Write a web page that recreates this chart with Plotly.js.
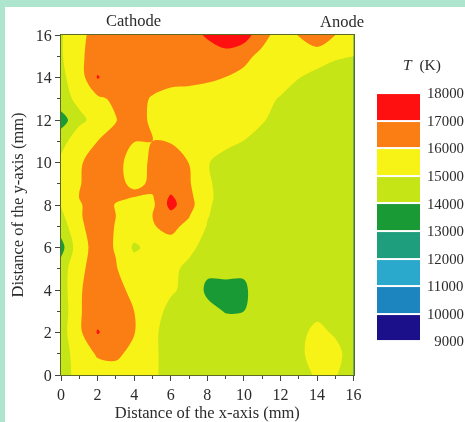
<!DOCTYPE html>
<html>
<head>
<meta charset="utf-8">
<script src="https://cdn.plot.ly/plotly-3.0.1.min.js"></script>
<style>
html,body{margin:0;padding:0;width:465px;height:422px;overflow:hidden;background:#ADE5CF;}
#c{position:absolute;left:5px;top:7px;width:460px;height:415px;background:#fff;filter:blur(0.35px);}
</style>
</head>
<body>
<div id="c"></div>
<script>
const xMm = [0,1,2,3,4,5,6,7,8,9,10,11,12,13,14,15,16];
const yMm = [0,1,2,3,4,5,6,7,7.5,8,8.3,8.6,9,10,11,12,13,14,15,16];
const r0  = [14500,15400,15600,15600,15400,15100,14800,14600,14600,14500,14500,14500,14500,14700,15100,15050,14600];
const r1  = [14500,15500,16100,16200,15700,15100,14800,14600,14500,14500,14500,14500,14500,14800,15400,15250,14600];
const r2  = [14600,15800,17070,16500,16050,15100,14800,14600,14500,14500,14500,14500,14500,14800,15200,14900,14600];
const r3  = [14400,15900,16600,16600,16000,15300,14800,14600,14300,13950,14000,14500,14500,14500,14800,14600,14500];
const r4  = [14500,15900,16500,16350,15700,15300,15100,14800,13800,13600,13800,14700,14500,14500,14500,14500,14500];
const r5  = [14500,15800,16400,16050,15500,15300,15200,14800,14200,14400,14200,14500,14500,14500,14500,14500,14500];
const r6  = [13600,15700,16300,15950,14850,15300,15700,15200,14700,14500,14500,14500,14500,14500,14500,14500,14500];
const r7  = [14500,15800,16500,15950,15500,15950,16200,15800,14950,14600,14500,14500,14500,14500,14500,14500,14500];
const r75 = [14800,15900,16500,16000,15700,16000,16700,16050,15050,14600,14500,14500,14500,14500,14500,14500,14500];
const r8  = [15050,15900,16500,15950,15800,15800,17300,16400,15100,14700,14500,14500,14500,14500,14500,14500,14500];
const r83 = [15150,16000,16500,16100,15950,15900,17200,16300,15150,14700,14500,14500,14500,14500,14500,14500,14500];
const r86 = [15200,16000,16500,16300,16150,16050,16900,16200,15150,14700,14500,14500,14500,14500,14500,14500,14500];
const r9  = [15200,15950,16400,16400,15700,16200,16600,16100,15150,14600,14500,14500,14500,14500,14500,14500,14500];
const r10 = [15200,15900,16400,16300,15600,16150,16400,15990,15050,14700,14500,14500,14500,14500,14500,14500,14500];
const r11 = [14700,15500,16000,16500,16020,16000,15950,15500,15300,15200,14990,14800,14500,14500,14500,14500,14500];
const r12 = [13500,14800,15300,15950,16500,15800,15600,15500,15400,15300,15200,15050,14800,14500,14500,14500,14500];
const r13 = [14700,15200,15800,16200,16400,15900,15450,15400,15400,15400,15350,15200,14950,14700,14500,14500,14500];
const r14 = [14800,15500,17070,16500,16500,16500,16500,16400,16200,15980,15700,15500,15300,15020,14700,14600,14500];
const r15 = [14900,15800,16500,16600,16600,16600,16600,16600,16600,16800,16300,15700,15500,15300,15450,15100,15000];
const r16 = [14900,15800,16300,16500,16500,16500,16600,16700,17100,17350,17450,16400,15500,16050,16700,16000,15200];
const temperature = [r0,r1,r2,r3,r4,r5,r6,r7,r75,r8,r83,r86,r9,r10,r11,r12,r13,r14,r15,r16];

const bandCentres = [9500,10500,11500,12500,13500,14500,15500,16500,17500];
const bandColours = ['#1B1089','#1C84BE','#2BA9CC','#1F9E7E','#1A9A35','#C5E516','#F8F316','#FA7E14','#FF1010'];
const tickVals = [9000,10000,11000,12000,13000,14000,15000,16000,17000,18000];
const tickText = ['\u00a0\u00a09000','10000','11000','12000','13000','14000','15000','16000','17000','18000'];
const serif = '"Liberation Serif", serif';

const stepped = [];
bandColours.forEach((c,i)=>{ stepped.push([i/9,c]); stepped.push([(i+1)/9,c]); });

const traces = [
  {type:'contour', x:xMm, y:yMm, z:temperature, xaxis:'x', yaxis:'y',
   zmin:9000, zmax:18000, autocontour:false, showscale:false, colorscale:stepped,
   contours:{start:9000,end:18000,size:1000,coloring:'fill',showlines:false},
   line:{width:0,smoothing:1.0}, hoverinfo:'skip'},
  {type:'heatmap', x:[0], y:bandCentres, z:bandCentres.map(v=>[v]), xaxis:'x2', yaxis:'y2',
   zmin:9000, zmax:18000, showscale:false, colorscale:stepped, ygap:2, hoverinfo:'skip'}
];

const plotW = 359, mainW = 292.6, plotH = 341;
const layout = {
  width:460, height:415, paper_bgcolor:'#fff', plot_bgcolor:'#fff',
  margin:{l:56,r:45,t:27.5,b:46.5,pad:0}, showlegend:false,
  font:{family:serif,size:16,color:'#2b2b2b'},
  xaxis:{domain:[0,mainW/plotW],range:[0,16],dtick:2,tick0:0,ticks:'outside',ticklen:5,tickwidth:1,
    tickcolor:'#444',linecolor:'#5d6b25',linewidth:1,mirror:true,showgrid:false,zeroline:false,
    tickfont:{family:serif,size:16,color:'#2b2b2b'},
    minor:{dtick:1,ticks:'outside',ticklen:3,tickwidth:1,tickcolor:'#444',showgrid:false},
    title:{text:'Distance of the x-axis (mm)',font:{family:serif,size:16.5,color:'#2b2b2b'},standoff:7}},
  yaxis:{domain:[0,1],range:[0,16],dtick:2,tick0:0,ticks:'outside',ticklen:5,tickwidth:1,
    tickcolor:'#444',linecolor:'#5d6b25',linewidth:1,mirror:true,showgrid:false,zeroline:false,
    tickfont:{family:serif,size:16,color:'#2b2b2b'},
    minor:{dtick:1,ticks:'outside',ticklen:3,tickwidth:1,tickcolor:'#444',showgrid:false},
    title:{text:'Distance of the y-axis (mm)',font:{family:serif,size:16.5,color:'#2b2b2b'},standoff:8}},
  xaxis2:{domain:[316/plotW,1],anchor:'y2',range:[-0.5,0.5],visible:false,showgrid:false,zeroline:false},
  yaxis2:{domain:[(375.5-341.7)/plotH,(375.5-92.7)/plotH],anchor:'x2',side:'right',range:[9000,18000],
    tickmode:'array',tickvals:tickVals,ticktext:tickText,ticks:'outside',ticklen:3,tickcolor:'rgba(0,0,0,0)',showline:false,
    showgrid:false,zeroline:false,tickfont:{family:serif,size:14.8,color:'#2b2b2b'}},
  annotations:[
    {xref:'paper',yref:'paper',x:(133-61)/plotW,y:(375.5-20)/plotH,text:'Cathode',showarrow:false,
     font:{family:serif,size:16.5,color:'#2b2b2b'},xanchor:'center',yanchor:'middle'},
    {xref:'paper',yref:'paper',x:(342-61)/plotW,y:(375.5-21)/plotH,text:'Anode',showarrow:false,
     font:{family:serif,size:16.5,color:'#2b2b2b'},xanchor:'center',yanchor:'middle'},
    {xref:'paper',yref:'paper',x:(422-61)/plotW,y:(375.5-65)/plotH,text:'<i>T</i>  (K)',showarrow:false,
     font:{family:serif,size:15.5,color:'#2b2b2b'},xanchor:'center',yanchor:'middle'}
  ]
};
Plotly.newPlot('c',traces,layout,{displayModeBar:false,staticPlot:true});
</script>
</body>
</html>
